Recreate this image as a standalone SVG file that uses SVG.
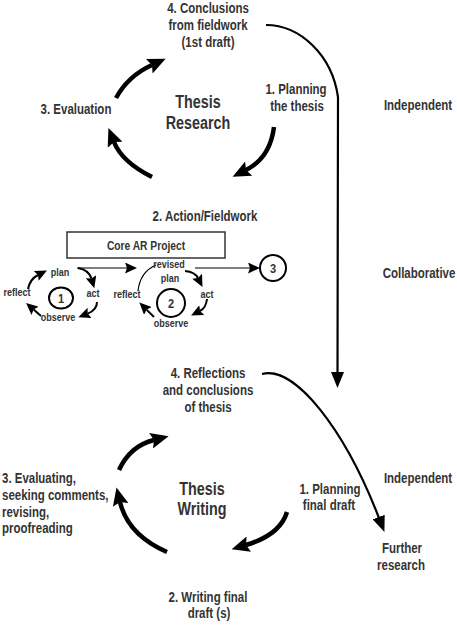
<svg xmlns="http://www.w3.org/2000/svg" width="457" height="630" viewBox="0 0 457 630">
<style>
text{font-family:"Liberation Sans",Arial,sans-serif;font-weight:bold;fill:#333;text-anchor:middle}
.m{font-size:14px}
.b{font-size:17.5px}
.s{font-size:11px}
.l{text-anchor:start}
.thick{fill:none;stroke:#000;stroke-width:4.5}
.conn{fill:none;stroke:#000;stroke-width:2.2}
.thin{fill:none;stroke:#000;stroke-width:2}
.hair{fill:none;stroke:#000;stroke-width:1.2}
.ring{fill:#fff;stroke:#000;stroke-width:2}
</style>
<defs>
<marker id="big" markerUnits="userSpaceOnUse" viewBox="0 0 18 16" markerWidth="18" markerHeight="16" refX="3" refY="8" orient="auto"><path d="M0,0 L18,8 L0,16 L3,8 z" fill="#000"/></marker>
<marker id="cn" markerUnits="userSpaceOnUse" viewBox="0 0 16 13" markerWidth="16" markerHeight="13" refX="1" refY="6.5" orient="auto"><path d="M0,0 L16,6.5 L0,13 z" fill="#000"/></marker>
<marker id="sm" markerUnits="userSpaceOnUse" viewBox="0 0 12 11" markerWidth="12" markerHeight="11" refX="2" refY="5.5" orient="auto"><path d="M0,0 L12,5.5 L0,11 L2,5.5 z" fill="#000"/></marker>
</defs>
<g id="connectors">
<path class="thick" d="M116,98 Q128,76 152,65" marker-end="url(#big)"/>
<path class="thick" d="M152,177 Q122,162 114,142" marker-end="url(#big)"/>
<path class="thick" d="M274,127 Q270,158 246,170" marker-end="url(#big)"/>
<path class="thick" d="M119,470 Q130,446 154,440" marker-end="url(#big)"/>
<path class="thick" d="M167,552 Q128,535 120,502" marker-end="url(#big)"/>
<path class="thick" d="M287,512 Q280,535 246,545" marker-end="url(#big)"/>
<path class="conn" d="M266,25 C300,25 332,55 338,97 L337.5,373" marker-end="url(#cn)"/>
<path class="conn" d="M262,374 C295,365 345,430 379,518" marker-end="url(#cn)"/>
<path class="hair" d="M77,268 L127,268" marker-end="url(#sm)"/>
<path class="hair" d="M195,268 L250,268" marker-end="url(#sm)"/>
<path class="thin" d="M78,268 Q89,270 91.5,278.6" marker-end="url(#sm)"/>
<path class="thin" d="M97,302 Q97,310 87.7,313.6" marker-end="url(#sm)"/>
<path class="thin" d="M41,316 L33.6,309.5" marker-end="url(#sm)"/>
<path class="thin" d="M28,289 Q30,279 38,275" marker-end="url(#sm)"/>
<path class="thin" d="M185,271 Q195,272 198,278" marker-end="url(#sm)"/>
<path class="thin" d="M207,299 Q206,308 200,311" marker-end="url(#sm)"/>
<path class="thin" d="M154,317 L146.5,309.6" marker-end="url(#sm)"/>
<path class="hair" d="M138,291 Q140,272 156,265"/>
</g>
<g id="n-conclusions"><text class="m" transform="translate(208,13) scale(.82,1)">4. Conclusions</text><text class="m" transform="translate(208,30) scale(.82,1)">from fieldwork</text><text class="m" transform="translate(208,47) scale(.82,1)">(1st draft)</text></g>
<g id="n-planning-thesis"><text class="m" transform="translate(296,94) scale(.82,1)">1. Planning</text><text class="m" transform="translate(297,111) scale(.82,1)">the thesis</text></g>
<g id="n-independent1"><text class="m" transform="translate(418,110) scale(.82,1)">Independent</text></g>
<g id="n-evaluation"><text class="m" transform="translate(76,114) scale(.82,1)">3. Evaluation</text></g>
<g id="n-thesis-research"><text class="b" transform="translate(198,108) scale(.82,1)">Thesis</text><text class="b" transform="translate(198,129) scale(.82,1)">Research</text></g>
<g id="n-action"><text class="m" transform="translate(205,221) scale(.82,1)">2. Action/Fieldwork</text></g>
<g id="n-core"><rect x="67" y="232" width="158" height="26" fill="#fff" stroke="#333" stroke-width="1.5"/><text transform="translate(146,250) scale(.82,1)" style="font-size:12.5px">Core AR Project</text></g>
<g id="n-collab"><text class="m" transform="translate(419,278) scale(.82,1)">Collaborative</text></g>
<g id="n-cycle1">
<text class="s" transform="translate(60,276) scale(.82,1)">plan</text><text class="s" transform="translate(93,297) scale(.82,1)">act</text><text class="s" transform="translate(58,321) scale(.82,1)">observe</text><text class="s" transform="translate(17,296) scale(.82,1)">reflect</text>
<ellipse class="ring" cx="61" cy="298" rx="12" ry="10.5"/><text transform="translate(61,303) scale(.85,1)" style="font-size:13px">1</text>
</g>
<g id="n-cycle2">
<text class="s" transform="translate(169,268) scale(.82,1)">revised</text><text class="s" transform="translate(170,282) scale(.82,1)">plan</text><text class="s" transform="translate(207,298) scale(.82,1)">act</text><text class="s" transform="translate(171,327) scale(.82,1)">observe</text><text class="s" transform="translate(127,298) scale(.82,1)">reflect</text>
<circle class="ring" cx="171" cy="303" r="14"/><text transform="translate(171,308) scale(.85,1)" style="font-size:13px">2</text>
</g>
<g id="n-3"><circle class="ring" cx="273" cy="268" r="13"/><text transform="translate(273,273) scale(.85,1)" style="font-size:13px">3</text></g>
<g id="n-reflections"><text class="m" transform="translate(208,378) scale(.82,1)">4. Reflections</text><text class="m" transform="translate(208,395) scale(.82,1)">and conclusions</text><text class="m" transform="translate(208,412) scale(.82,1)">of thesis</text></g>
<g id="n-independent2"><text class="m" transform="translate(418,483) scale(.82,1)">Independent</text></g>
<g id="n-planning-final"><text class="m" transform="translate(330,494) scale(.82,1)">1. Planning</text><text class="m" transform="translate(329,510) scale(.82,1)">final draft</text></g>
<g id="n-further"><text class="m" transform="translate(402,553) scale(.82,1)">Further</text><text class="m" transform="translate(401,570) scale(.82,1)">research</text></g>
<g id="n-thesis-writing"><text class="b" transform="translate(202,495) scale(.82,1)">Thesis</text><text class="b" transform="translate(202,515) scale(.82,1)">Writing</text></g>
<g id="n-evaluating"><text class="m l" transform="translate(2,483) scale(.82,1)">3. Evaluating,</text><text class="m l" transform="translate(2,500) scale(.82,1)">seeking comments,</text><text class="m l" transform="translate(2,517) scale(.82,1)">revising,</text><text class="m l" transform="translate(2,533) scale(.82,1)">proofreading</text></g>
<g id="n-writing"><text class="m" transform="translate(208,602) scale(.82,1)">2. Writing final</text><text class="m" transform="translate(209,618) scale(.82,1)">draft (s)</text></g>
</svg>
